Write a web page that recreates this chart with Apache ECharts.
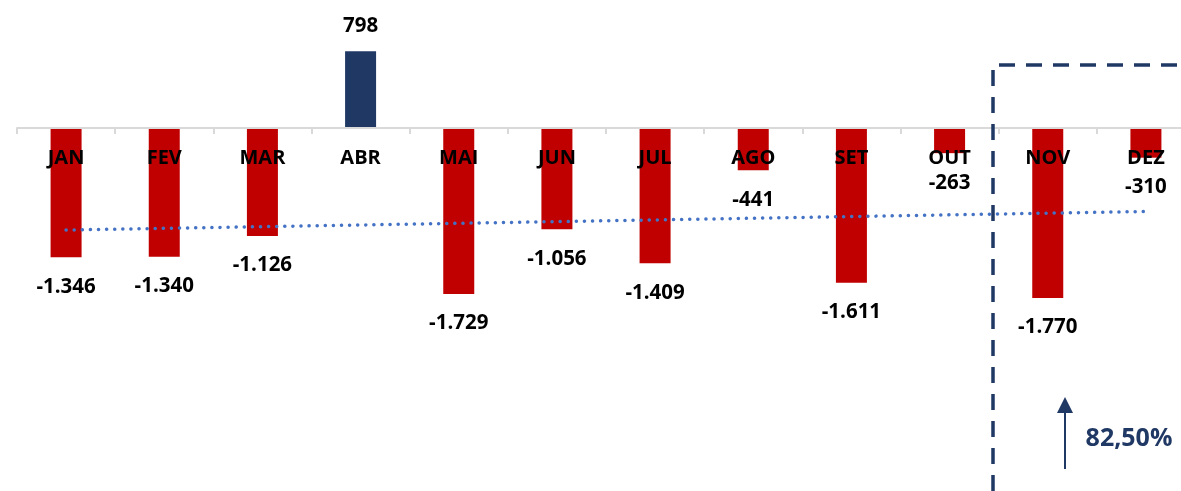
<!DOCTYPE html>
<html>
<head>
<meta charset="utf-8">
<script src="https://cdn.jsdelivr.net/npm/echarts@6/dist/echarts.min.js"></script>
<style>
html,body{margin:0;padding:0;background:#fff;}
#c{width:1181px;height:491px;}
</style>
</head>
<body>
<div id="c"></div>
<script>
const categories = ['JAN','FEV','MAR','ABR','MAI','JUN','JUL','AGO','SET','OUT','NOV','DEZ'];
const values = [-1346, -1340, -1126, 798, -1729, -1056, -1409, -441, -1611, -263, -1770, -310];
const trendStart = ['JAN', -1063];
const trendEnd = ['DEZ', -870];
const annotationText = '82,50%';

function fmt(v){
  const s = Math.abs(v).toString();
  const withSep = s.replace(/\B(?=(\d{3})+(?!\d))/g, '.');
  return (v < 0 ? '-' : '') + withSep;
}

const FONT = '"Open Sans", Lato, sans-serif';
const NAVY = '#1F3864';
const RED = '#C00000';

const Y_MIN = -3800, Y_MAX = 1300;
const GRID_TOP = 3, GRID_BOTTOM = -2;
const H = 491;
const gridH = H - GRID_TOP - GRID_BOTTOM;
const zeroFromBottom = gridH * (0 - Y_MIN) / (Y_MAX - Y_MIN);

const chart = echarts.init(document.getElementById('c'));
chart.setOption({
  animation: false,
  grid: {left: 17, right: -14, top: GRID_TOP, bottom: GRID_BOTTOM, containLabel: false, outerBoundsMode: 'none'},
  xAxis: {
    type: 'category',
    data: categories,
    z: 10,
    position: 'bottom',
    offset: -zeroFromBottom,
    axisLine: {onZero: false, lineStyle: {color: '#d9d9d9', width: 2}},
    axisTick: {show: true, length: 6, lineStyle: {color: '#d9d9d9', width: 2}},
    axisLabel: {color: '#000', fontFamily: FONT, fontWeight: 'bold', fontSize: 20, margin: 20}
  },
  yAxis: {
    type: 'value', min: Y_MIN, max: Y_MAX, show: false,
    splitLine: {show: false}
  },
  series: [
    {
      type: 'bar',
      barWidth: 31,
      data: values.map(v => ({
        value: v,
        itemStyle: {color: v >= 0 ? NAVY : RED},
        label: {position: v >= 0 ? 'top' : 'bottom', distance: v >= 0 ? 15 : 19}
      })),
      label: {
        show: true,
        color: '#000', fontFamily: FONT, fontWeight: 'bold', fontSize: 20.5,
        formatter: p => fmt(p.value)
      }
    },
    {
      type: 'line',
      data: [trendStart, trendEnd],
      symbol: 'none',
      z: 5,
      lineStyle: {color: '#4472C4', width: 3.5, type: [0.1, 8], cap: 'round'}
    }
  ],
  graphic: [
    {type: 'polyline', z: 20, shape: {points: [[993, 491], [993, 65], [1181, 65]]},
     style: {stroke: NAVY, lineWidth: 3.5, lineDash: [16, 11], fill: null}},
    {type: 'line', z: 20, shape: {x1: 1065, y1: 469, x2: 1065, y2: 410},
     style: {stroke: NAVY, lineWidth: 2}},
    {type: 'polygon', z: 20, shape: {points: [[1065, 397], [1057, 413], [1073, 413]]},
     style: {fill: NAVY}},
    {type: 'text', z: 20, x: 1129, y: 439,
     style: {text: annotationText, fill: NAVY, font: 'bold 25px ' + FONT, align: 'center', verticalAlign: 'middle'}}
  ]
});
</script>
</body>
</html>
